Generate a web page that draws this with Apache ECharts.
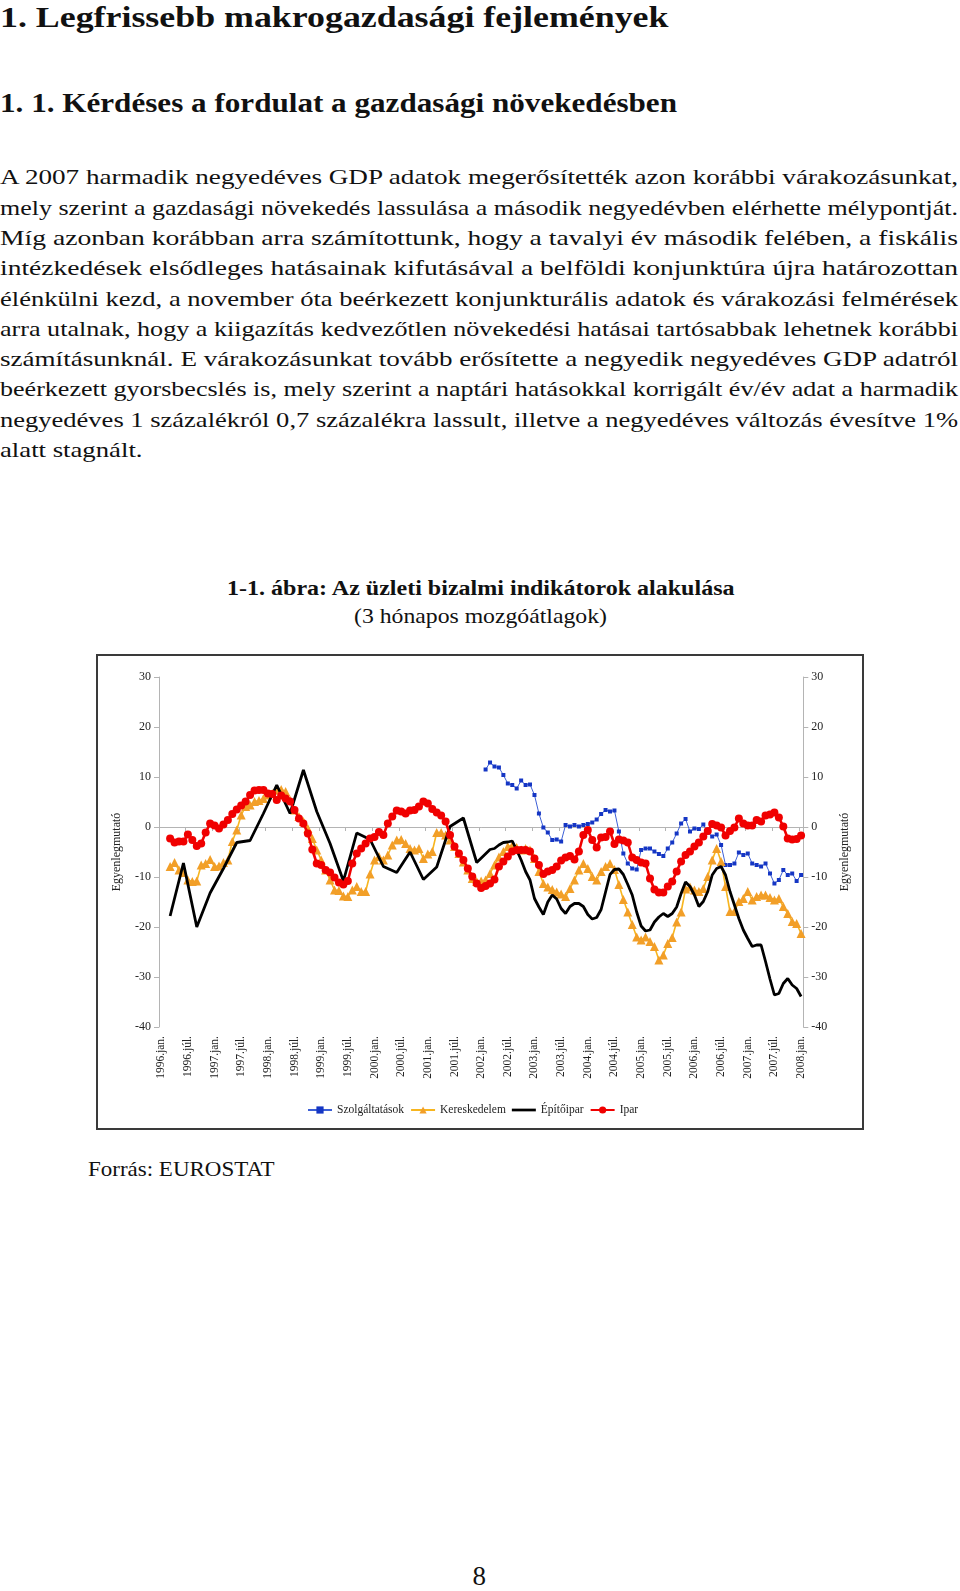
<!DOCTYPE html>
<html><head><meta charset="utf-8">
<script src="https://cdn.jsdelivr.net/npm/echarts@6/dist/echarts.min.js"></script>
<style>
html,body{margin:0;padding:0;background:#fff;}
body{width:960px;height:1591px;position:relative;overflow:hidden;font-family:'Liberation Serif','Times New Roman',serif;color:#111;}
.t{position:absolute;white-space:nowrap;transform-origin:0 0;}
.line{position:absolute;left:0;font-size:22px;line-height:30.3px;height:30.3px;white-space:nowrap;transform-origin:0 0;}
#frame{position:absolute;left:96px;top:654px;width:768px;height:476px;box-sizing:border-box;border:2px solid #3a3a3a;}
#chart{position:absolute;left:96px;top:654px;width:768px;height:476px;}
</style></head>
<body>
<div class="t" id="h1" data-w="668" style="left:0;top:1.6px;font-size:30px;line-height:30px;font-weight:bold;">1. Legfrissebb makrogazdasági fejlemények</div>
<div class="t" id="h2" data-w="677" style="left:0;top:89px;font-size:28px;line-height:28px;font-weight:bold;">1. 1. Kérdéses a fordulat a gazdasági növekedésben</div>
<div id="body"></div>
<div class="t" id="c1" data-w="507" data-cx="480" style="top:578px;font-size:20px;line-height:20px;font-weight:bold;">1-1. ábra: Az üzleti bizalmi indikátorok alakulása</div>
<div class="t" id="c2" data-w="253" data-cx="480" style="top:606px;font-size:21px;line-height:21px;">(3 hónapos mozgóátlagok)</div>
<div id="frame"></div>
<div id="chart"></div>
<div class="t" id="src" data-w="187" style="left:88px;top:1158px;font-size:22px;line-height:22px;">Forrás: EUROSTAT</div>
<div class="t" id="pg" style="left:473px;top:1563px;font-size:27px;line-height:27px;">8</div>
<script>
// ---------- text ----------
const bodyLines = [
 "A 2007 harmadik negyedéves GDP adatok megerősítették azon korábbi várakozásunkat,",
 "mely szerint a gazdasági növekedés lassulása a második negyedévben elérhette mélypontját.",
 "Míg azonban korábban arra számítottunk, hogy a tavalyi év második felében, a fiskális",
 "intézkedések elsődleges hatásainak kifutásával a belföldi konjunktúra újra határozottan",
 "élénkülni kezd, a november óta beérkezett konjunkturális adatok és várakozási felmérések",
 "arra utalnak, hogy a kiigazítás kedvezőtlen növekedési hatásai tartósabbak lehetnek korábbi",
 "számításunknál. E várakozásunkat tovább erősítette a negyedik negyedéves GDP adatról",
 "beérkezett gyorsbecslés is, mely szerint a naptári hatásokkal korrigált év/év adat a harmadik",
 "negyedéves 1 százalékról 0,7 százalékra lassult, illetve a negyedéves változás évesítve 1%",
 "alatt stagnált."
];

// ---------- chart data ----------
const years = ['1996','1997','1998','1999','2000','2001','2002','2003','2004','2005','2006','2007','2008'];
const monthNames = ['jan.','febr.','márc.','ápr.','máj.','jún.','júl.','aug.','szept.','okt.','nov.','dec.'];
const seriesNames = ['Szolgáltatások','Kereskedelem','Építőipar','Ipar'];
const yTicks = [-40,-30,-20,-10,0,10,20,30];

// Szolgáltatások (from 2002.febr.)
const szolgaltatasok = [
 null,null,null,null,null,null,null,null,null,null,null,null,
 null,null,null,null,null,null,null,null,null,null,null,null,
 null,null,null,null,null,null,null,null,null,null,null,null,
 null,null,null,null,null,null,null,null,null,null,null,null,
 null,null,null,null,null,null,null,null,null,null,null,null,
 null,null,null,null,null,null,null,null,null,null,null,null,
 null,11.5,12.9,12.1,11.9,10.4,8.7,8.4,7.7,9.3,8.4,8.5,
 6.4,2.7,-0.1,-1.1,-2.6,-2.5,-2.9,0.4,0.1,0.4,0.1,0.4,
 0.6,0.9,1.5,2.6,3.4,3.1,3.3,-0.9,-5.3,-7.3,-8.3,-8.5,
 -4.6,-4.3,-4.3,-4.9,-5.4,-5.8,-4.3,-3.1,-1.3,0.7,1.6,-0.9,
 -0.3,-0.4,0.5,-1.1,-1.9,-1.5,-3.6,-7.6,-7.6,-7.3,-5.1,-5.6,
 -5.3,-7.3,-7.6,-7.9,-7.3,-9.3,-11.3,-10.6,-8.6,-9.6,-9.3,-10.8,
 -9.6
];
// Kereskedelem
const kereskedelem = [
 null,null,-7.9,-7.1,-8.6,-9.1,-10.6,-10.9,-10.8,-7.6,-7.3,-6.5,
 -7.9,-7.8,-7.1,-6.6,-2.9,-0.6,2.4,4.1,4.4,5.1,5.3,5.7,
 6.4,6.7,7.4,7.5,7.1,5.4,3.4,2.1,1.1,-0.3,-2.3,-4.6,
 -6.6,-8.6,-10.6,-12.6,-12.7,-13.8,-13.9,-12.6,-11.9,-12.9,-12.9,-9.4,
 -6.6,-5.9,-6.6,-5.6,-3.6,-2.6,-2.5,-3.3,-4.3,-4.6,-4.3,-6.3,
 -5.4,-4.9,-1.1,-1.1,-1.6,-2.6,-3.9,-5.3,-7.0,-8.6,-10.3,-10.9,
 -10.8,-10.6,-9.3,-7.6,-6.0,-4.9,-3.9,-3.7,-4.1,-4.6,-4.3,-4.6,
 -6.3,-8.9,-11.3,-12.0,-12.5,-13.0,-13.4,-13.9,-12.3,-10.6,-8.6,-7.3,
 -8.3,-9.9,-10.6,-8.9,-7.9,-7.3,-8.5,-11.5,-14.5,-17.0,-19.5,-22.0,
 -22.6,-22.0,-22.9,-23.9,-26.6,-25.6,-23.3,-22.1,-19.0,-17.0,-12.4,-12.0,
 -12.6,-12.9,-12.3,-9.9,-6.6,-4.3,-6.9,-11.9,-16.9,-16.9,-14.9,-14.3,
 -12.9,-14.6,-13.9,-13.6,-13.6,-14.1,-14.6,-14.3,-15.9,-17.3,-18.9,-19.3,
 -21.3
];
// Építőipar (quarterly readings until 2002, monthly after)
const epitoipar = [
 null,null,-17.8,null,null,-7.2,null,null,-20.0,null,null,-13.2,
 null,null,-8.3,null,null,-3.1,null,null,-2.7,null,null,2.7,
 null,null,8.4,null,null,2.7,null,null,11.4,null,null,3.1,
 null,null,-3.3,null,null,-10.8,null,null,-1.2,null,null,-2.5,
 null,null,-7.9,null,null,-9.1,null,null,-5.0,null,null,-10.5,
 null,null,-8.0,null,null,0.1,null,null,1.8,null,null,-7.1,
 null,null,-4.5,-4.3,-3.6,-3.1,-3.0,-2.8,-4.6,-6.6,-8.9,-10.6,
 -14.3,-16.0,-17.5,-15.0,-13.6,-14.4,-16.3,-17.3,-15.9,-15.3,-15.3,-15.9,
 -17.5,-18.4,-18.1,-16.5,-13.0,-9.5,-8.5,-8.4,-9.5,-11.5,-13.6,-17.0,
 -19.8,-20.8,-20.6,-19.0,-18.0,-17.3,-17.9,-17.3,-16.0,-13.3,-11.0,-11.9,
 -13.6,-15.9,-14.9,-12.9,-9.6,-8.3,-7.9,-9.6,-12.9,-15.6,-18.3,-20.6,
 -22.3,-23.9,-23.6,-23.6,-26.9,-30.4,-33.6,-33.3,-31.3,-30.3,-31.6,-32.3,
 -33.9
];
// Ipar
const ipar = [
 null,null,-2.3,-3.1,-2.9,-2.9,-1.5,-2.6,-3.8,-3.3,-1.1,0.7,
 0.3,-0.3,0.5,1.4,2.6,3.5,4.3,5.1,6.4,7.3,7.4,7.4,
 6.7,6.6,5.4,6.3,5.7,5.1,3.4,1.7,0.7,-1.3,-4.5,-7.3,
 -7.6,-8.6,-9.1,-10.1,-11.1,-11.5,-10.8,-7.3,-5.3,-4.3,-3.3,-2.3,
 -2.0,-1.0,-1.6,0.7,2.1,3.3,3.1,2.7,3.3,3.4,4.1,5.1,
 4.7,3.6,2.9,2.3,1.1,-1.6,-3.9,-5.3,-6.6,-8.3,-9.9,-11.3,
 -12.2,-11.8,-11.3,-10.5,-7.9,-6.9,-5.9,-4.9,-4.6,-4.6,-4.6,-4.9,
 -6.3,-7.6,-9.4,-8.9,-8.6,-7.9,-6.7,-6.1,-5.8,-6.5,-4.9,-1.6,
 -0.6,-2.6,-4.1,-2.1,-2.0,-0.9,-3.4,-2.5,-2.7,-3.1,-6.1,-6.6,
 -7.1,-7.3,-10.3,-12.5,-13.1,-13.1,-11.9,-10.9,-8.9,-6.9,-5.6,-4.9,
 -3.9,-3.1,-1.9,-0.8,0.6,0.3,-0.1,-1.7,-0.8,-0.1,1.7,0.7,
 0.3,0.3,1.4,1.1,2.3,2.5,2.9,1.9,0.1,-2.3,-2.5,-2.4,
 -1.7
];

const categories = [];
years.forEach(y => monthNames.forEach(m => categories.push(y + '.' + m)));
categories.length = ipar.length;

// ---------- page text layout ----------
const bodyEl = document.getElementById('body');
const LINE_W = 958;
let sSum = 0, sCount = 0;
bodyLines.forEach((txt, i) => {
  const d = document.createElement('div');
  d.className = 'line';
  d.style.top = (162.3 + i * 30.3) + 'px';
  d.textContent = txt;
  bodyEl.appendChild(d);
  const w = d.getBoundingClientRect().width;
  let s;
  if (i < bodyLines.length - 1) { s = LINE_W / w; sSum += s; sCount++; }
  else s = sSum / sCount;
  d.style.transform = 'scaleX(' + s + ')';
});
document.querySelectorAll('.t[data-w]').forEach(el => {
  const w = +el.dataset.w;
  const s = w / el.offsetWidth;
  el.style.transform = 'scaleX(' + s + ')';
  if (el.dataset.cx) el.style.left = (+el.dataset.cx - w / 2) + 'px';
});
{
  const pg = document.getElementById('pg');
  pg.style.left = (479.5 - pg.offsetWidth / 2) + 'px';
}

// ---------- chart ----------
const FONT = "'Liberation Serif', 'Times New Roman', serif";
const chart = echarts.init(document.getElementById('chart'), null, {renderer: 'canvas'});
const axisGrey = '#b4b4b4';
const yAxisBase = (pos) => ({
  type: 'value', position: pos, min: -40, max: 30, interval: 10,
  name: 'Egyenlegmutató', nameLocation: 'middle', nameGap: 36,
  nameTextStyle: {fontFamily: FONT, fontSize: 12, color: '#222'},
  axisLine: {show: true, onZero: false, lineStyle: {color: axisGrey, width: 1}},
  axisTick: {show: true, length: 5, inside: false, lineStyle: {color: axisGrey}},
  splitLine: {show: false},
  axisLabel: {fontFamily: FONT, fontSize: 12, color: '#222', margin: 8,
    formatter: v => yTicks.indexOf(v) >= 0 ? String(v) : ''}
});
chart.setOption({
  animation: false,
  backgroundColor: 'transparent',
  grid: {left: 63, right: 60.7, top: 23, bottom: 103, containLabel: false},
  legend: {
    data: [
      {name: seriesNames[0]},
      {name: seriesNames[1]},
      {name: seriesNames[2], icon: 'path://M0,0 L30,0 L30,3.4 L0,3.4 Z'},
      {name: seriesNames[3]}
    ],
    left: 206, top: 445, itemWidth: 24, itemHeight: 9, itemGap: 6,
    textStyle: {fontFamily: FONT, fontSize: 11.5, color: '#222'}
  },
  xAxis: [
    {type: 'category', data: categories, boundaryGap: true, position: 'bottom',
     axisLine: {show: false, onZero: false}, axisTick: {show: false},
     axisLabel: {interval: 5, rotate: 90, fontFamily: FONT, fontSize: 11.5, color: '#222', margin: 9}},
    {type: 'category', data: categories, boundaryGap: true, position: 'bottom',
     axisLine: {show: true, onZero: true, lineStyle: {color: axisGrey, width: 1}},
     axisTick: {show: true, interval: 5, length: 4, lineStyle: {color: axisGrey}},
     axisLabel: {show: false}}
  ],
  yAxis: [yAxisBase('left'), yAxisBase('right')],
  series: [
    {name: seriesNames[0], type: 'line', data: szolgaltatasok, xAxisIndex: 0, yAxisIndex: 0,
     symbol: 'rect', symbolSize: 4, showAllSymbol: true, z: 2,
     lineStyle: {color: '#3c5fd6', width: 1}, itemStyle: {color: '#1536c4'}},
    {name: seriesNames[1], type: 'line', data: kereskedelem, xAxisIndex: 0, yAxisIndex: 0,
     symbol: 'triangle', symbolSize: 9, showAllSymbol: true, z: 3,
     lineStyle: {color: '#f7b51e', width: 1.6}, itemStyle: {color: '#f29f28'}},
    {name: seriesNames[2], type: 'line', data: epitoipar, xAxisIndex: 0, yAxisIndex: 0,
     symbol: 'none', connectNulls: true, z: 4,
     lineStyle: {color: '#000000', width: 2.8}, itemStyle: {color: '#000000'}},
    {name: seriesNames[3], type: 'line', data: ipar, xAxisIndex: 0, yAxisIndex: 0,
     symbol: 'circle', symbolSize: 8, showAllSymbol: true, z: 5,
     lineStyle: {color: '#f00000', width: 2.6}, itemStyle: {color: '#f00000'}}
  ]
});
</script>
</body></html>
